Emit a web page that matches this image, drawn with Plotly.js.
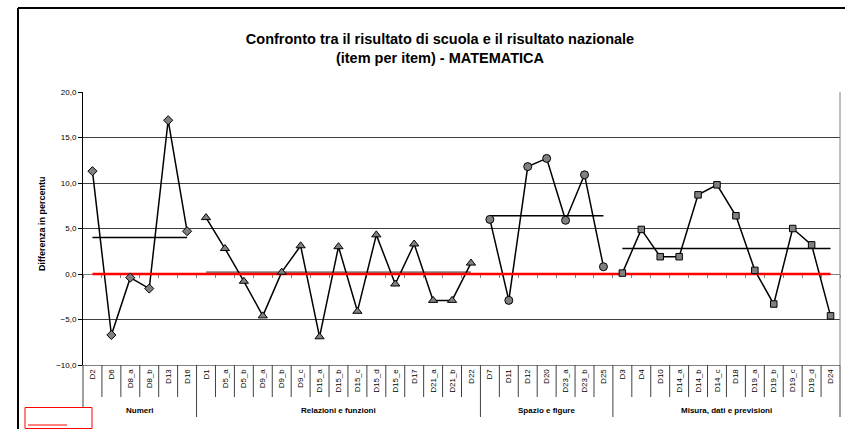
<!DOCTYPE html>
<html>
<head>
<meta charset="utf-8">
<script src="https://cdn.plot.ly/plotly-3.0.1.min.js"></script>
<style>html,body{margin:0;padding:0;background:#fff;}#chart{width:845px;height:429px;}</style>
</head>
<body>
<div id="chart"></div>
<script>
const categories = ['D2','D6','D8_a','D8_b','D13','D16',
  'D1','D5_a','D5_b','D9_a','D9_b','D9_c','D15_a','D15_b','D15_c','D15_d','D15_e','D17','D21_a','D21_b','D22',
  'D7','D11','D12','D20','D23_a','D23_b','D25',
  'D3','D4','D10','D14_a','D14_b','D14_c','D18','D19_a','D19_b','D19_c','D19_d','D24'];
const groups = ['Numeri','Relazioni e funzioni','Spazio e figure','Misura, dati e previsioni'];
const groupSizes = [6, 15, 7, 12];
const numeri = [11.3, -6.7, -0.4, -1.6, 16.9, 4.7];
const relazioni = [6.2, 2.8, -0.8, -4.6, 0.2, 3.1, -6.9, 3.0, -4.1, 4.3, -1.1, 3.3, -2.9, -2.9, 1.2];
const spazio = [6.0, -2.9, 11.8, 12.7, 5.9, 10.9, 0.8];
const misura = [0.1, 4.9, 1.9, 1.9, 8.7, 9.8, 6.4, 0.4, -3.3, 5.0, 3.2, -4.6];
const groupMeans = [4.0, 0.2, 6.4, 2.8];
const yTicks = [-10, -5, 0, 5, 10, 15, 20];

const series = [numeri, relazioni, spazio, misura];
const symbols = ['diamond', 'triangle-up', 'circle', 'square'];
const msizes = [7, 8, 8, 6.5];
const FONT = 'Arial, "Liberation Sans", sans-serif';

const traces = [];
let start = 0;
const starts = [];
series.forEach((vals, g) => {
  starts.push(start);
  const xs = vals.map((v, i) => start + i);
  traces.push({x: [xs[0], xs[xs.length - 1]], y: [groupMeans[g], groupMeans[g]], mode: 'lines',
    line: {color: g === 1 ? '#808080' : '#000', width: g === 1 ? 2 : 1.5}, hoverinfo: 'skip', showlegend: false});
  traces.push({x: xs, y: vals, mode: 'lines', line: {color: '#000', width: 1.5}, showlegend: false});
  start += vals.length;
});
traces.push({x: [0, categories.length - 1], y: [0, 0], xaxis: 'x2', mode: 'lines',
  line: {color: '#ff0000', width: 2.5}, showlegend: false});
series.forEach((vals, g) => {
  const xs = vals.map((v, i) => starts[g] + i);
  traces.push({x: xs, y: vals, xaxis: 'x2', mode: 'markers',
    marker: {symbol: symbols[g], size: msizes[g], color: '#808080', line: {color: '#000', width: 1}}, showlegend: false});
});

const L = 83, R = 5, T = 92, B = 64, W = 845, H = 429;
const pw = W - L - R, ph = H - T - B;
const px2x = p => (p - L) / pw;
const py2y = p => (H - B - p) / ph;
const n = categories.length;
const shapes = [];
const annotations = [];
let cum = 0;
const groupEdges = [0];
groupSizes.forEach(s => { cum += s; groupEdges.push(cum); });
for (let i = 0; i <= n; i++) {
  const isGroup = groupEdges.includes(i);
  shapes.push({type: 'line', xref: 'paper', yref: 'paper', x0: i / n, x1: i / n, y0: 0,
    y1: isGroup ? py2y(417) : py2y(397), line: {color: '#404040', width: 1}});
}
for (let g = 0; g < groups.length; g++) {
  annotations.push({xref: 'paper', yref: 'paper', x: (groupEdges[g] + groupEdges[g + 1]) / 2 / n,
    y: py2y(410), text: '<b>' + groups[g] + '</b>', showarrow: false,
    font: {family: FONT, size: 8, color: '#000'}, xanchor: 'center', yanchor: 'middle'});
}
shapes.push({type: 'line', xref: 'paper', yref: 'paper', x0: 1, x1: 1, y0: 0, y1: 1, line: {color: '#808080', width: 1}});
shapes.push({type: 'line', xref: 'paper', yref: 'paper', x0: px2x(18), x1: px2x(18), y0: py2y(8), y1: py2y(430), line: {color: '#000', width: 2}});
shapes.push({type: 'line', xref: 'paper', yref: 'paper', x0: px2x(18), x1: px2x(846), y0: py2y(8), y1: py2y(8), line: {color: '#000', width: 2}});
shapes.push({type: 'rect', xref: 'paper', yref: 'paper', x0: px2x(25), x1: px2x(92), y0: py2y(407.5), y1: py2y(428.5),
  line: {color: '#ff0000', width: 1}, fillcolor: '#fff', layer: 'above'});
shapes.push({type: 'line', xref: 'paper', yref: 'paper', x0: px2x(28), x1: px2x(67), y0: py2y(425), y1: py2y(425),
  line: {color: '#ff0000', width: 1}, layer: 'above'});

annotations.push({xref: 'paper', yref: 'paper', x: px2x(42), y: py2y(224), textangle: -90,
  text: '<b>Differenza in percentu</b>', showarrow: false, font: {family: FONT, size: 9, color: '#000'},
  xanchor: 'center', yanchor: 'middle'});

const boundaries = [];
for (let i = 0; i <= n; i++) boundaries.push(i - 0.5);

const layout = {
  width: W, height: H,
  margin: {l: L, r: R, t: T, b: B, pad: 0},
  paper_bgcolor: '#fff', plot_bgcolor: '#fff',
  separators: ',.',
  showlegend: false,
  font: {family: FONT, size: 8, color: '#000'},
  title: {text: '<b>Confronto tra il risultato di scuola e il risultato nazionale<br>(item per item) - MATEMATICA</b>',
    font: {family: FONT, size: 14.5, color: '#000'}, xref: 'paper', x: px2x(440), xanchor: 'center',
    yref: 'container', y: 1 - 44 / H, yanchor: 'top'},
  xaxis: {range: [-0.5, n - 0.5], tickvals: categories.map((c, i) => i), ticktext: categories,
    tickangle: -90, ticks: '', showgrid: false, zeroline: false, showline: true, linecolor: '#808080',
    tickfont: {family: FONT, size: 8, color: '#000'}, fixedrange: true},
  xaxis2: {overlaying: 'x', anchor: 'free', position: 10 / 30, range: [-0.5, n - 0.5],
    tickvals: boundaries, ticks: 'outside', ticklen: 3, tickcolor: '#808080', showticklabels: false,
    showline: true, linecolor: '#808080', showgrid: false, zeroline: false, layer: 'below traces'},
  yaxis: {range: [-10, 20], tickvals: yTicks, tickformat: '.1f', ticks: 'outside', ticklen: 4, tickcolor: '#000',
    showline: true, linecolor: '#000', gridcolor: '#404040', gridwidth: 1, zeroline: false,
    tickfont: {family: FONT, size: 8, color: '#000'}},
  shapes: shapes,
  annotations: annotations
};

Plotly.newPlot('chart', traces, layout, {displayModeBar: false, staticPlot: true});
</script>
</body>
</html>
